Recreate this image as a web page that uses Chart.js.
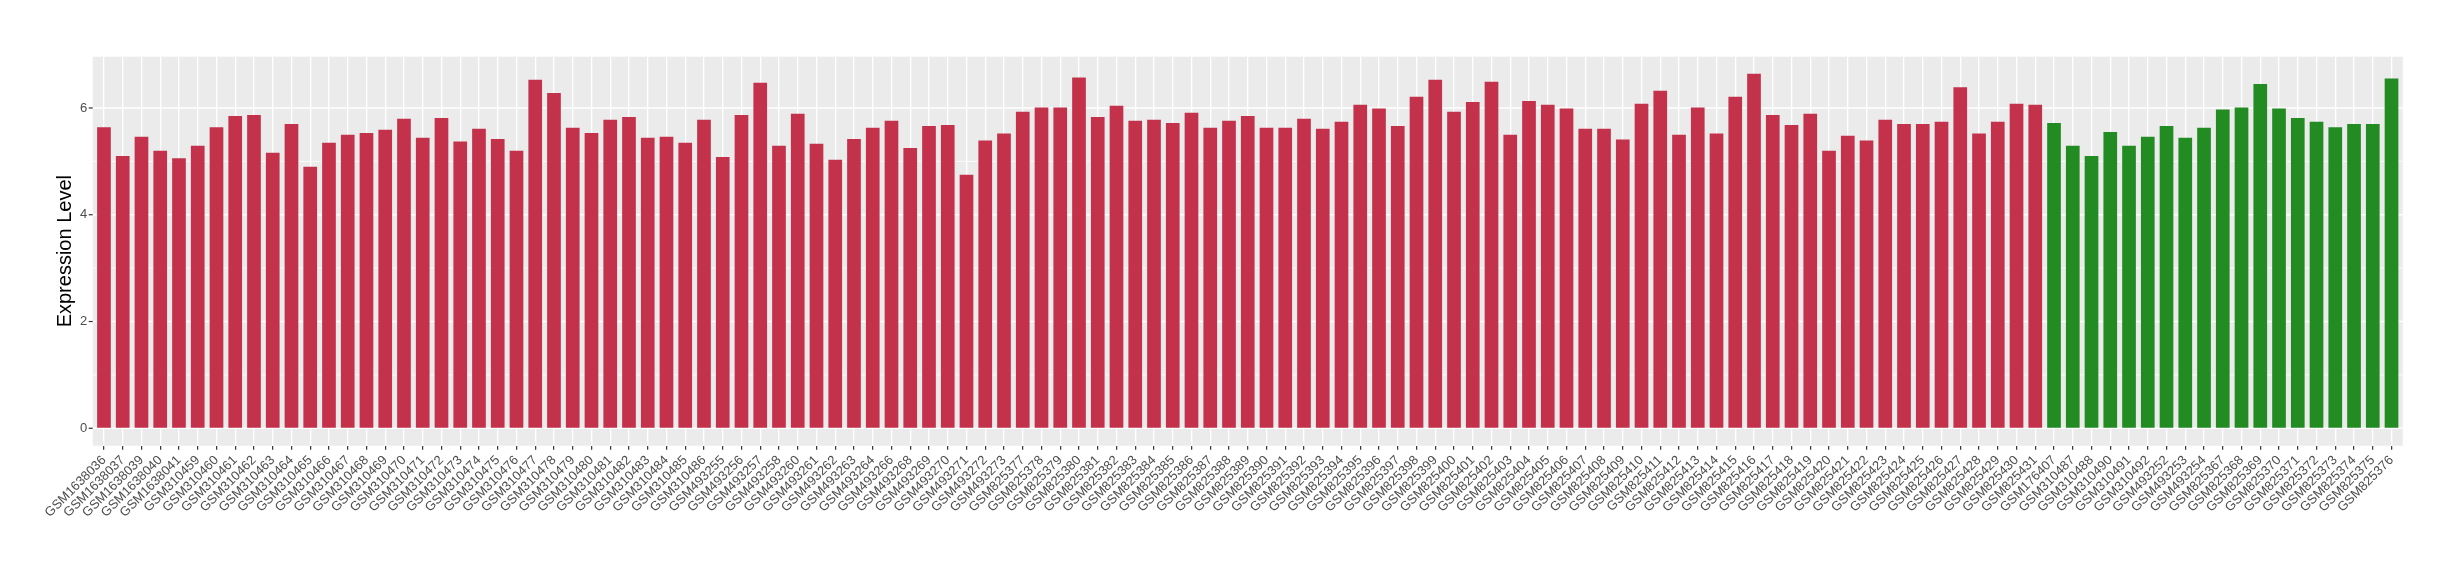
<!DOCTYPE html>
<html>
<head>
<meta charset="utf-8">
<script src="https://cdn.jsdelivr.net/npm/chart.js@4"></script>
<style>
  body { margin: 0; background: #fff; }
</style>
</head>
<body>
<canvas id="myChart" width="2460" height="580"></canvas>
<script>
// Samples and expression levels, first group (red bars).
const redSamples = [
  'GSM1638036', 'GSM1638037', 'GSM1638039', 'GSM1638040', 'GSM1638041',
  'GSM310459', 'GSM310460', 'GSM310461', 'GSM310462', 'GSM310463', 'GSM310464', 'GSM310465',
  'GSM310466', 'GSM310467', 'GSM310468', 'GSM310469', 'GSM310470', 'GSM310471', 'GSM310472',
  'GSM310473', 'GSM310474', 'GSM310475', 'GSM310476', 'GSM310477', 'GSM310478', 'GSM310479',
  'GSM310480', 'GSM310481', 'GSM310482', 'GSM310483', 'GSM310484', 'GSM310485', 'GSM310486',
  'GSM493255', 'GSM493256', 'GSM493257', 'GSM493258', 'GSM493260', 'GSM493261', 'GSM493262',
  'GSM493263', 'GSM493264', 'GSM493266', 'GSM493268', 'GSM493269', 'GSM493270', 'GSM493271',
  'GSM493272', 'GSM493273',
  'GSM825377', 'GSM825378', 'GSM825379', 'GSM825380', 'GSM825381', 'GSM825382', 'GSM825383',
  'GSM825384', 'GSM825385', 'GSM825386', 'GSM825387', 'GSM825388', 'GSM825389', 'GSM825390',
  'GSM825391', 'GSM825392', 'GSM825393', 'GSM825394', 'GSM825395', 'GSM825396', 'GSM825397',
  'GSM825398', 'GSM825399', 'GSM825400', 'GSM825401', 'GSM825402', 'GSM825403', 'GSM825404',
  'GSM825405', 'GSM825406', 'GSM825407', 'GSM825408', 'GSM825409', 'GSM825410', 'GSM825411',
  'GSM825412', 'GSM825413', 'GSM825414', 'GSM825415', 'GSM825416', 'GSM825417', 'GSM825418',
  'GSM825419', 'GSM825420', 'GSM825421', 'GSM825422', 'GSM825423', 'GSM825424', 'GSM825425',
  'GSM825426', 'GSM825427', 'GSM825428', 'GSM825429', 'GSM825430', 'GSM825431'
];
const redValues = [
  5.64, 5.10, 5.46, 5.20, 5.06,
  5.29, 5.64, 5.85, 5.87, 5.16, 5.70, 4.90,
  5.35, 5.50, 5.53, 5.59, 5.80, 5.44, 5.81,
  5.37, 5.61, 5.42, 5.20, 6.53, 6.28, 5.63,
  5.53, 5.78, 5.83, 5.44, 5.46, 5.35, 5.78,
  5.08, 5.87, 6.47, 5.29, 5.89, 5.33, 5.03,
  5.42, 5.63, 5.76, 5.25, 5.66, 5.68, 4.75,
  5.39, 5.52,
  5.93, 6.01, 6.01, 6.57, 5.83, 6.04, 5.76,
  5.78, 5.72, 5.91, 5.63, 5.76, 5.85, 5.63,
  5.63, 5.80, 5.61, 5.74, 6.06, 5.99, 5.66,
  6.21, 6.53, 5.93, 6.11, 6.49, 5.50, 6.13,
  6.06, 5.99, 5.61, 5.61, 5.41, 6.08, 6.32,
  5.50, 6.01, 5.52, 6.21, 6.64, 5.87, 5.68,
  5.89, 5.20, 5.48, 5.39, 5.78, 5.70, 5.70,
  5.74, 6.39, 5.52, 5.74, 6.08, 6.06
];

// Second group (green bars).
const greenSamples = [
  'GSM176407', 'GSM310487', 'GSM310488', 'GSM310490', 'GSM310491', 'GSM310492',
  'GSM493252', 'GSM493253', 'GSM493254',
  'GSM825367', 'GSM825368', 'GSM825369', 'GSM825370', 'GSM825371', 'GSM825372',
  'GSM825373', 'GSM825374', 'GSM825375', 'GSM825376'
];
const greenValues = [
  5.72, 5.29, 5.10, 5.55, 5.29, 5.46,
  5.66, 5.44, 5.63,
  5.97, 6.01, 6.45, 5.99, 5.81, 5.74,
  5.64, 5.70, 5.70, 6.55
];

const yTicks = [0, 2, 4, 6];
const yMinorTicks = [1, 3, 5];

const RED = '#C4314B';
const GREEN = '#228B22';

// ggplot-like grey panel, slightly wider than the category range
const panelPlugin = {
  id: 'panel',
  beforeDraw(chart) {
    const { ctx, chartArea: a, scales: { x, y } } = chart;
    const step = (a.right - a.left) / chart.data.labels.length;
    const left = a.left - step * 0.1;
    const right = a.right + step * 0.1;
    ctx.save();
    ctx.fillStyle = '#EBEBEB';
    ctx.fillRect(left, a.top, right - left, a.bottom - a.top);
    ctx.strokeStyle = '#FFFFFF';
    yMinorTicks.forEach(v => {
      const py = y.getPixelForValue(v);
      ctx.lineWidth = 0.8;
      ctx.beginPath(); ctx.moveTo(left, py); ctx.lineTo(right, py); ctx.stroke();
    });
    yTicks.forEach(v => {
      const py = y.getPixelForValue(v);
      ctx.lineWidth = 1.4;
      ctx.beginPath(); ctx.moveTo(left, py); ctx.lineTo(right, py); ctx.stroke();
      // tick mark
      ctx.strokeStyle = '#333333';
      ctx.lineWidth = 1.2;
      ctx.beginPath(); ctx.moveTo(left - 4, py); ctx.lineTo(left, py); ctx.stroke();
      ctx.strokeStyle = '#FFFFFF';
    });
    ctx.restore();
  }
};

const labels = redSamples.concat(greenSamples);
const values = redValues.concat(greenValues);
const colors = redSamples.map(() => RED).concat(greenSamples.map(() => GREEN));

const ctx = document.getElementById('myChart');

new Chart(ctx, {
  type: 'bar',
  data: {
    labels: labels,
    datasets: [{
      label: 'Expression Level',
      data: values,
      backgroundColor: colors,
      barPercentage: 0.73,
      categoryPercentage: 1.0
    }]
  },
  options: {
    responsive: false,
    devicePixelRatio: 1,
    animation: false,
    layout: { padding: { top: 56.7, right: 59.1, bottom: 0, left: 0 } },
    plugins: {
      legend: { display: false },
      tooltip: { enabled: true }
    },
    scales: {
      x: {
        offset: true,
        grid: {
          offset: false,
          color: '#FFFFFF',
          lineWidth: 1.3,
          tickColor: '#333333',
          tickLength: 4,
          tickWidth: 1.2
        },
        border: { display: false },
        ticks: {
          autoSkip: false,
          minRotation: 45,
          maxRotation: 45,
          padding: 3,
          color: '#4D4D4D',
          font: { family: 'Liberation Sans', size: 13 }
        },
        afterFit(scale) { scale.height = 134.3; }
      },
      y: {
        min: -0.326,
        max: 6.96,
        afterBuildTicks(scale) {
          scale.ticks = yTicks.map(v => ({ value: v }));
        },
        grid: { drawOnChartArea: false, drawTicks: false },
        border: { display: false },
        ticks: {
          padding: 7.3,
          color: '#4D4D4D',
          font: { family: 'Liberation Sans', size: 13 }
        },
        title: {
          display: true,
          text: 'Expression Level',
          color: '#000000',
          font: { family: 'Liberation Sans', size: 20 },
          padding: { top: 53, bottom: 0 }
        },
        afterFit(scale) { scale.width = 94.6; }
      }
    }
  },
  plugins: [panelPlugin]
});
</script>
</body>
</html>
